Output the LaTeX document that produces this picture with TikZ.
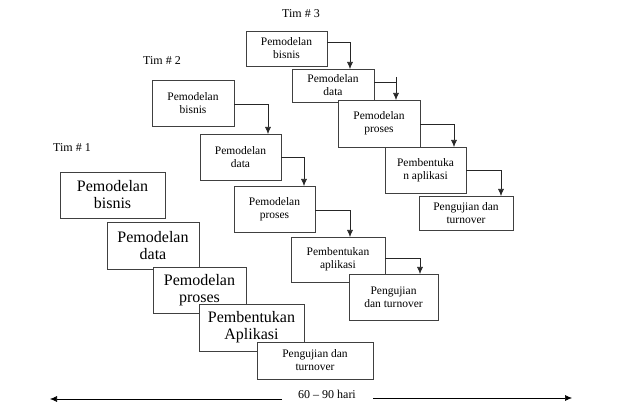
\documentclass[tikz,border=0pt]{standalone}
\usepackage{fontspec}
\usetikzlibrary{arrows.meta}
\setmainfont{Liberation Serif}
\begin{document}
\begin{tikzpicture}[x=1pt,y=-1pt,
  bx/.style={draw=black!75,fill=white,align=center,inner sep=0pt,font=\fontsize{11.5}{13}\selectfont},
  big/.style={bx,font=\fontsize{16}{17}\selectfont},
  arr/.style={-{Latex[length=7pt,width=6pt]},semithick,black!85},
  lbl/.style={font=\fontsize{12}{13}\selectfont}]
\useasboundingbox (0,0) rectangle (640,406);
% Team 1
\node[big,minimum width=105,minimum height=46] (a1) at (112.5,195) {Pemodelan\\bisnis};
\node[big,minimum width=92,minimum height=47] (a2) at (153,245.5) {Pemodelan\\data};
\node[big,minimum width=93,minimum height=46] (a3) at (199.5,290) {Pemodelan\\proses};
\node[big,minimum width=105,minimum height=47] (a4) at (251.5,327.5) {Pembentukan\\Aplikasi};
\node[bx,minimum width=116,minimum height=37] (a5) at (315,360.5) {Pengujian dan\\turnover};
% Team 2
\node[bx,minimum width=82,minimum height=46] (c1) at (193,103) {Pemodelan\\bisnis};
\node[bx,minimum width=81,minimum height=46] (c2) at (240.5,157) {Pemodelan\\data};
\node[bx,minimum width=81,minimum height=46] (c3) at (274.5,209) {Pemodelan\\proses};
\node[bx,minimum width=94,minimum height=45] (c4) at (338,259.5) {Pembentukan\\aplikasi};
\node[bx,minimum width=89,minimum height=46] (c5) at (393.5,297) {Pengujian\\dan turnover};
\draw[arr] (c1.east|-0,104) -| (268,134);
\draw[arr] (c2.east|-0,157) -| (304,186);
\draw[arr] (c3.east|-0,210) -| (350,237);
\draw[arr] (c4.east|-0,258) -| (420,274);
% Team 3
\node[bx,minimum width=81,minimum height=35] (d1) at (286.5,48.5) {Pemodelan\\bisnis};
\node[bx,minimum width=82,minimum height=33] (d2) at (333,85.5) {Pemodelan\\data};
\node[bx,minimum width=82,minimum height=47] (d3) at (379,123.5) {Pemodelan\\proses};
\node[bx,minimum width=81,minimum height=46] (d4) at (425.5,170) {Pembentuka\\n aplikasi};
\node[bx,minimum width=94,minimum height=34] (d5) at (466,213) {Pengujian dan\\turnover};
\draw[arr] (d1.east|-0,42) -| (350,69);
\draw[arr] (d2.east|-0,82) -| (396,100);
\draw[semithick,black!85] (396,77) -- (396,82);
\draw[arr] (d3.east|-0,124) -| (454,147);
\draw[arr] (d4.east|-0,170) -| (501,196);
% labels
\node[lbl] (t3) at (301,14) {Tim \# 3};
\node[lbl] (t2) at (162,61) {Tim \# 2};
\node[lbl] (t1) at (72,148) {Tim \# 1};
\node[lbl] (dur) at (327,394) {60 – 90 hari};
\coordinate (l1) at (282,399);
\coordinate (l2) at (50,399);
\coordinate (r1) at (373,398);
\coordinate (r2) at (572,398);
\draw[-{Latex[length=7pt,width=6pt]},semithick] (l1) -- (l2);
\draw[-{Latex[length=7pt,width=6pt]},semithick] (r1) -- (r2);
\end{tikzpicture}
\end{document}
